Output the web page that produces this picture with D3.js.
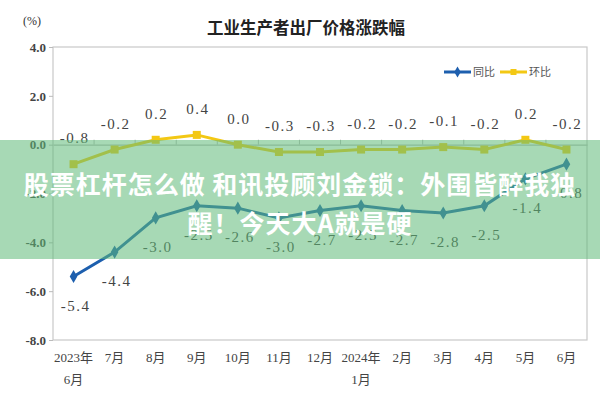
<!DOCTYPE html>
<html>
<head>
<meta charset="utf-8">
<script src="https://cdn.jsdelivr.net/npm/d3@7"></script>
<style>
  body { margin: 0; background: #fff; }
  svg { display: block; }
</style>
</head>
<body>
<div id="vis"></div>
<script>
// months on the x axis, two lines per label
const months = ['2023年|6月', '7月', '8月', '9月', '10月', '11月', '12月', '2024年|1月', '2月', '3月', '4月', '5月', '6月'];
// 同比 (year on year)
const yoy = [-5.4, -4.4, -3.0, -2.5, -2.6, -3.0, -2.7, -2.5, -2.7, -2.8, -2.5, -1.4, -0.8];
// 环比 (month on month)
const mom = [-0.8, -0.2, 0.2, 0.4, 0.0, -0.3, -0.3, -0.2, -0.2, -0.1, -0.2, 0.2, -0.2];
const yTicks = [4, 2, 0, -2, -4, -6, -8];

const W = 600, H = 400;
const margin = { top: 47, right: 13, bottom: 60, left: 53 };
const serif = '"Liberation Serif", "Noto Sans CJK SC", serif';
const cjk = '"Noto Sans CJK SC", sans-serif';
const blue = '#1d5fae';
const yellow = '#f3c814';

const svg = d3.select('#vis').append('svg')
  .attr('width', W)
  .attr('height', H);

const x = d3.scaleBand()
  .domain(months)
  .range([margin.left, W - margin.right]);

const y = d3.scaleLinear()
  .domain([-8, 4])
  .range([H - margin.bottom, margin.top]);

const cx = m => x(m) + x.bandwidth() / 2;

// title + unit
svg.append('text')
  .attr('x', 306)
  .attr('y', 34)
  .attr('text-anchor', 'middle')
  .attr('font-family', cjk)
  .attr('font-weight', 700)
  .attr('font-size', 16.5)
  .attr('fill', '#222')
  .text('工业生产者出厂价格涨跌幅');

svg.append('text')
  .attr('x', 32)
  .attr('y', 25)
  .attr('text-anchor', 'middle')
  .attr('font-family', serif)
  .attr('font-size', 12)
  .attr('fill', '#333')
  .text('(%)');

// plot frame
svg.append('rect')
  .attr('x', margin.left)
  .attr('y', margin.top)
  .attr('width', W - margin.left - margin.right)
  .attr('height', H - margin.top - margin.bottom)
  .attr('fill', 'none')
  .attr('stroke', '#c9c9c9')
  .attr('stroke-width', 1.2);

// y axis
const yAxis = svg.append('g')
  .attr('transform', 'translate(' + margin.left + ',0)')
  .call(d3.axisLeft(y).tickValues(yTicks).tickSize(4).tickPadding(3).tickFormat(d => d.toFixed(1)));
yAxis.select('.domain').remove();
yAxis.selectAll('line').attr('stroke', '#bbb');
yAxis.selectAll('text')
  .attr('font-family', serif)
  .attr('font-size', 13)
  .attr('font-weight', 700)
  .attr('fill', '#444');

// category axis sitting on the zero line
const zeroAxis = svg.append('g')
  .attr('transform', 'translate(0,' + y(0) + ')')
  .call(d3.axisTop(x).tickSize(0).tickFormat(''));
zeroAxis.select('.domain').attr('stroke', '#bdbdbd').attr('stroke-width', 1.2);
zeroAxis.selectAll('.tick').remove();
zeroAxis.selectAll('line.sep')
  .data(months.slice(1))
  .join('line')
  .attr('class', 'sep')
  .attr('x1', d => x(d))
  .attr('x2', d => x(d))
  .attr('y1', -5)
  .attr('y2', 0)
  .attr('stroke', '#bdbdbd');

// month labels under the frame
const xAxis = svg.append('g')
  .attr('transform', 'translate(0,' + (H - margin.bottom) + ')')
  .call(d3.axisBottom(x).tickSize(0).tickPadding(0).tickFormat(''));
xAxis.select('.domain').remove();
xAxis.selectAll('.tick text').each(function (d) {
  const parts = d.split('|');
  const t = d3.select(this)
    .attr('font-family', serif)
    .attr('font-size', 13)
    .attr('fill', '#444')
    .attr('dy', null)
    .attr('y', 22);
  parts.forEach((p, i) => {
    t.append('tspan').attr('x', 0).attr('dy', i === 0 ? 0 : 22).text(p);
  });
});

// lines
const line = d3.line()
  .x((d, i) => cx(months[i]))
  .y(d => y(d));

svg.append('path')
  .datum(mom)
  .attr('d', line)
  .attr('fill', 'none')
  .attr('stroke', yellow)
  .attr('stroke-width', 3);

svg.append('path')
  .datum(yoy)
  .attr('d', line)
  .attr('fill', 'none')
  .attr('stroke', blue)
  .attr('stroke-width', 3);

// markers
svg.selectAll('rect.mom')
  .data(mom)
  .join('rect')
  .attr('class', 'mom')
  .attr('x', (d, i) => cx(months[i]) - 4)
  .attr('y', d => y(d) - 4)
  .attr('width', 8)
  .attr('height', 8)
  .attr('fill', yellow);

svg.selectAll('path.yoy')
  .data(yoy)
  .join('path')
  .attr('class', 'yoy')
  .attr('d', d3.symbol(d3.symbolDiamond, 50))
  .attr('transform', (d, i) => 'translate(' + cx(months[i]) + ',' + y(d) + ')')
  .attr('fill', blue);

// value labels
svg.selectAll('text.momLbl')
  .data(mom)
  .join('text')
  .attr('class', 'momLbl')
  .attr('x', (d, i) => cx(months[i]) + 1)
  .attr('y', d => y(d) - 21)
  .attr('text-anchor', 'middle')
  .attr('font-family', serif)
  .attr('font-size', 15)
  .attr('letter-spacing', 1.5)
  .attr('fill', '#444')
  .text(d => d.toFixed(1));

svg.selectAll('text.yoyLbl')
  .data(yoy)
  .join('text')
  .attr('class', 'yoyLbl')
  .attr('x', (d, i) => cx(months[i]) + 2)
  .attr('y', d => y(d) + 34)
  .attr('text-anchor', 'middle')
  .attr('font-family', serif)
  .attr('font-size', 15)
  .attr('letter-spacing', 1.5)
  .attr('fill', '#444')
  .text(d => d.toFixed(1));

// legend
const legend = svg.append('g').attr('transform', 'translate(444,72)');
const legendItems = [
  { name: '同比', color: blue, shape: 'diamond' },
  { name: '环比', color: yellow, shape: 'square' }
];
legendItems.forEach((item, i) => {
  const g = legend.append('g').attr('transform', 'translate(' + (i * 56) + ',0)');
  g.append('line')
    .attr('x1', 0).attr('x2', 27)
    .attr('stroke', item.color)
    .attr('stroke-width', 3);
  g.append('path')
    .attr('d', d3.symbol(item.shape === 'diamond' ? d3.symbolDiamond : d3.symbolSquare, 36))
    .attr('transform', 'translate(13.5,0)')
    .attr('fill', item.color);
  g.append('text')
    .attr('x', 29)
    .attr('y', 4)
    .attr('font-family', cjk)
    .attr('font-size', 11)
    .attr('fill', '#555')
    .text(item.name);
});

// green caption banner laid over the chart
svg.append('rect')
  .attr('x', 0)
  .attr('y', 140)
  .attr('width', W)
  .attr('height', 119)
  .attr('fill', 'rgba(95,185,120,0.55)');

const bannerLines = ['股票杠杆怎么做 和讯投顾刘金锁：外围皆醉我独', '醒！今天大A就是硬'];
svg.selectAll('text.banner')
  .data(bannerLines)
  .join('text')
  .attr('class', 'banner')
  .attr('x', W / 2)
  .attr('y', (d, i) => 194 + i * 39)
  .attr('text-anchor', 'middle')
  .attr('font-family', cjk)
  .attr('font-weight', 700)
  .attr('font-size', 25)
  .attr('letter-spacing', 1)
  .attr('fill', '#fff')
  .text(d => d);
</script>
</body>
</html>
